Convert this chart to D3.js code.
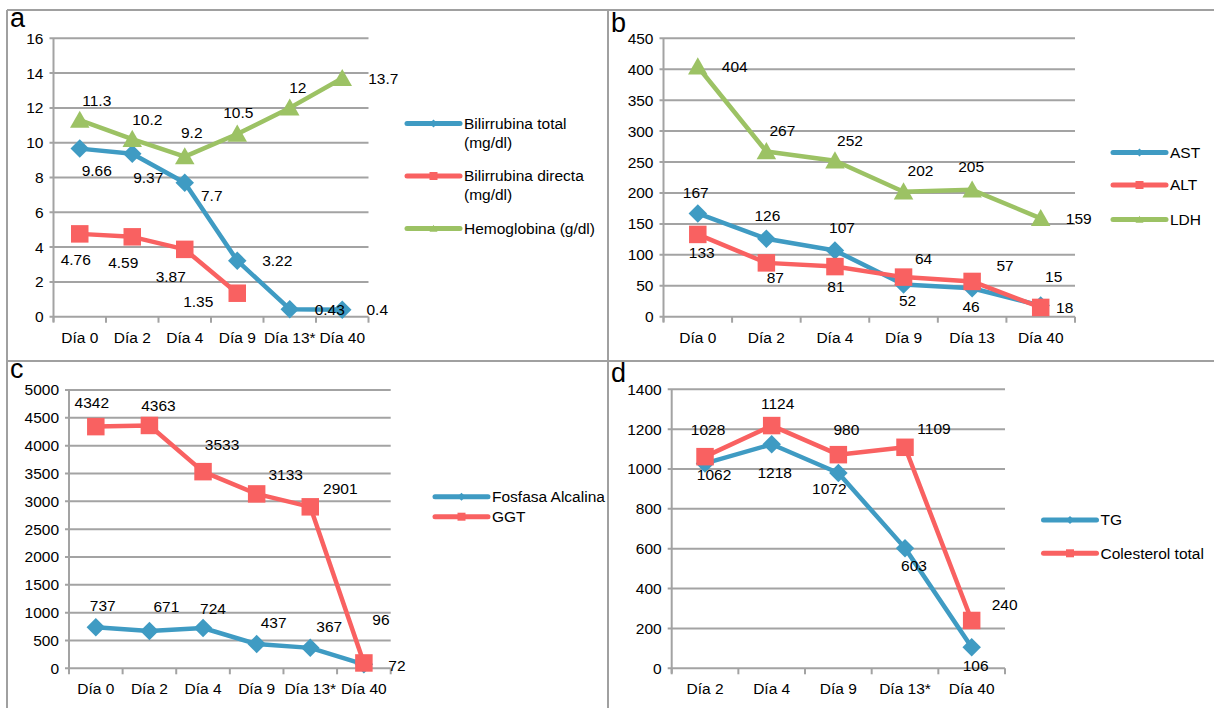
<!DOCTYPE html>
<html><head><meta charset="utf-8">
<script src="https://cdn.jsdelivr.net/npm/d3@7"></script>
<style>
body{margin:0;background:#fff}
svg{display:block}
text{font-family:"Liberation Sans",Arial,Helvetica,sans-serif;fill:#000}
</style>
</head><body>
<svg id="chart" width="1214" height="708"></svg>
<script>
// ---------- DATA ----------
// Panel a
const catsA = ["Día 0","Día 2","Día 4","Día 9","Día 13*","Día 40"];
const bilTotal = [9.66,9.37,7.7,3.22,0.43,0.4];
const bilDirecta = [4.76,4.59,3.87,1.35,null,null];
const hemoglobina = [11.3,10.2,9.2,10.5,12,13.7];
const ticksA = [0,2,4,6,8,10,12,14,16];
// Panel b
const catsB = ["Día 0","Día 2","Día 4","Día 9","Día 13","Día 40"];
const ast = [167,126,107,52,46,18];
const alt = [133,87,81,64,57,15];
const ldh = [404,267,252,202,205,159];
const ticksB = [0,50,100,150,200,250,300,350,400,450];
// Panel c
const catsC = ["Día 0","Día 2","Día 4","Día 9","Día 13*","Día 40"];
const fosfasa = [737,671,724,437,367,72];
const ggt = [4342,4363,3533,3133,2901,96];
const ticksC = [0,500,1000,1500,2000,2500,3000,3500,4000,4500,5000];
// Panel d
const catsD = ["Día 2","Día 4","Día 9","Día 13*","Día 40"];
const tg = [1028,1124,980,603,106];
const colesterol = [1062,1218,1072,1109,240];
const tgLabels = ["1062","1218","1072","603","106"];          // labels as printed in the figure
const colesterolLabels = ["1028","1124","980","1109","240"];
const ticksD = [0,200,400,600,800,1000,1200,1400];

// ---------- STYLE / LAYOUT ----------
const BLUE = "#3f9bc3", RED = "#f96161", GREEN = "#9cc264";
const GRID = "#a3a3a3";
const FONT = 15.5;

// label offsets (layout only), [dx, dy] relative to marker centre
const offA = {
  tot: [[17,22],[16,24],[27,13],[40,0],[40,0],[35,0]],
  dir: [[-4,26],[-9,26],[-14,27],[-39,8]],
  hem: [[17,-20],[15,-20],[7,-24],[1,-21],[8,-20],[41,0]]
};
const offB = {
  ast: [[-2,-21],[1,-23],[7,-23],[4,16],[-1,18],[24,2]],
  alt: [[4,18],[9,15],[1,20],[20,-19],[33,-16],[13,-31]],
  ldh: [[37,0],[16,-21],[15,-20],[17,-21],[-1,-23],[38,0]]
};
const offC = {
  fa: [[7,-22],[17,-24],[10,-19],[17,-21],[19,-21],[33,1]],
  ggt: [[-4,-24],[9,-20],[19,-27],[29,-19],[30,-18],[17,-43]]
};
const offD = {
  tg: [[9,11],[3,28],[-9,16],[9,17],[4,18]],
  col: [[3,-27],[6,-22],[8,-25],[29,-19],[33,-16]]
};

const svg = d3.select("#chart");

// panel borders
const borders = svg.append("g").attr("stroke", "#a0a0a0").attr("stroke-width", 2);
borders.append("line").attr("x1",7).attr("x2",1214).attr("y1",10).attr("y2",10);
borders.append("line").attr("x1",7).attr("x2",1214).attr("y1",361).attr("y2",361);
borders.append("line").attr("x1",7).attr("x2",7).attr("y1",10).attr("y2",708);
borders.append("line").attr("x1",608).attr("x2",608).attr("y1",10).attr("y2",708);

function markerPath(type, s) {
  const h = s/2;
  if (type === "diamond") return `M0,${-h}L${h},0L0,${h}L${-h},0Z`;
  if (type === "square") return `M${-h},${-h}H${h}V${h}H${-h}Z`;
  const th = s*0.88;
  return `M0,${-th*0.55}L${h},${th*0.45}L${-h},${th*0.45}Z`;
}
const markerSize = {diamond: 18.5, square: 17.5, triangle: 19.5};

function panel(cfg) {
  const g = svg.append("g");
  const x = d3.scaleBand().domain(cfg.cats).range([cfg.x0, cfg.x1]).padding(0);
  const y = d3.scaleLinear().domain([0, d3.max(cfg.ticks)]).range([cfg.yb, cfg.yt]);
  const cx = c => x(c) + x.bandwidth()/2;

  // gridlines
  g.append("g").selectAll("line").data(cfg.ticks).join("line")
    .attr("x1", cfg.x0 - 4).attr("x2", cfg.x1)
    .attr("y1", d => y(d)).attr("y2", d => y(d))
    .attr("stroke", GRID).attr("stroke-width", 2);

  // y axis
  const ya = g.append("g").attr("transform", `translate(${cfg.x0},0)`)
    .call(d3.axisLeft(y).tickValues(cfg.ticks).tickSize(0).tickPadding(10).tickFormat(d3.format("d")));
  ya.select(".domain").attr("stroke", GRID).attr("stroke-width", 2).attr("d", `M0,${cfg.yt}V${cfg.yb + 5}`);
  ya.selectAll("text").attr("font-size", FONT).attr("font-family", "Liberation Sans, Arial, sans-serif");

  // x axis
  const xa = g.append("g").attr("transform", `translate(0,${cfg.yb})`)
    .call(d3.axisBottom(x).tickSize(0).tickPadding(15));
  xa.select(".domain").remove();
  xa.selectAll("text").attr("font-size", FONT).attr("font-family", "Liberation Sans, Arial, sans-serif");
  const edges = cfg.cats.map(c => x(c)).concat([cfg.x1]);
  g.append("g").selectAll("line").data(edges).join("line")
    .attr("x1", d => d).attr("x2", d => d)
    .attr("y1", cfg.yb).attr("y2", cfg.yb + 6)
    .attr("stroke", GRID).attr("stroke-width", 2);

  // series
  cfg.series.forEach(s => {
    const pts = s.values.map((v, i) => ({c: cfg.cats[i], v, i})).filter(p => p.v != null);
    const line = d3.line().x(p => cx(p.c)).y(p => y(p.v));
    g.append("path").attr("d", line(pts)).attr("fill", "none")
      .attr("stroke", s.color).attr("stroke-width", 4.5).attr("stroke-linejoin", "round");
    g.append("g").selectAll("path").data(pts).join("path")
      .attr("transform", p => `translate(${cx(p.c)},${y(p.v)})`)
      .attr("d", markerPath(s.marker, markerSize[s.marker]))
      .attr("fill", s.color);
  });
  // labels (on top)
  cfg.series.forEach(s => {
    const pts = s.values.map((v, i) => ({c: cfg.cats[i], v, i})).filter(p => p.v != null);
    g.append("g").selectAll("text").data(pts).join("text")
      .attr("x", p => cx(p.c) + s.offsets[p.i][0])
      .attr("y", p => y(p.v) + s.offsets[p.i][1])
      .attr("dy", "0.35em").attr("text-anchor", "middle").attr("font-size", FONT)
      .text(p => s.labels ? s.labels[p.i] : String(p.v));
  });

  // panel letter
  g.append("text").attr("x", cfg.letter[0]).attr("y", cfg.letter[1])
    .attr("font-size", 27).text(cfg.letterText);

  // legend
  cfg.legend.items.forEach((it, k) => {
    const ly = cfg.legend.ys[k];
    const lx = cfg.legend.x;
    g.append("line").attr("x1", lx).attr("x2", lx + 53).attr("y1", ly).attr("y2", ly)
      .attr("stroke", it.color).attr("stroke-width", 5).attr("stroke-linecap", "round");
    g.append("path").attr("transform", `translate(${lx + 26.5},${ly})`)
      .attr("d", markerPath(it.marker, 8)).attr("fill", it.color);
    const t = g.append("text").attr("x", lx + 57).attr("y", ly).attr("font-size", FONT);
    if (it.lines.length === 1) {
      t.attr("dy", "0.35em").text(it.lines[0]);
    } else {
      it.lines.forEach((ln, j) => {
        t.append("tspan").attr("x", lx + 57).attr("y", ly + 5 + j * 19).text(ln);
      });
    }
  });
}

panel({
  cats: catsA, ticks: ticksA, x0: 53.5, x1: 368.5, yb: 316.7, yt: 38.3,
  letterText: "a", letter: [10, 27],
  series: [
    {values: bilTotal, color: BLUE, marker: "diamond", offsets: offA.tot},
    {values: bilDirecta, color: RED, marker: "square", offsets: offA.dir},
    {values: hemoglobina, color: GREEN, marker: "triangle", offsets: offA.hem}
  ],
  legend: {x: 407, ys: [123.5, 176, 228.5], items: [
    {color: BLUE, marker: "diamond", lines: ["Bilirrubina total", "(mg/dl)"]},
    {color: RED, marker: "square", lines: ["Bilirrubina directa", "(mg/dl)"]},
    {color: GREEN, marker: "triangle", lines: ["Hemoglobina (g/dl)"]}
  ]}
});

panel({
  cats: catsB, ticks: ticksB, x0: 663.5, x1: 1075, yb: 316.7, yt: 38.3,
  letterText: "b", letter: [611, 32],
  series: [
    {values: ast, color: BLUE, marker: "diamond", offsets: offB.ast},
    {values: alt, color: RED, marker: "square", offsets: offB.alt},
    {values: ldh, color: GREEN, marker: "triangle", offsets: offB.ldh}
  ],
  legend: {x: 1113, ys: [152.5, 185, 219.5], items: [
    {color: BLUE, marker: "diamond", lines: ["AST"]},
    {color: RED, marker: "square", lines: ["ALT"]},
    {color: GREEN, marker: "triangle", lines: ["LDH"]}
  ]}
});

panel({
  cats: catsC, ticks: ticksC, x0: 69, x1: 390.7, yb: 668.3, yt: 390,
  letterText: "c", letter: [10, 378],
  series: [
    {values: fosfasa, color: BLUE, marker: "diamond", offsets: offC.fa},
    {values: ggt, color: RED, marker: "square", offsets: offC.ggt}
  ],
  legend: {x: 435, ys: [496.7, 516.7], items: [
    {color: BLUE, marker: "diamond", lines: ["Fosfasa Alcalina"]},
    {color: RED, marker: "square", lines: ["GGT"]}
  ]}
});

panel({
  cats: catsD, ticks: ticksD, x0: 671.7, x1: 1005, yb: 668.3, yt: 389.3,
  letterText: "d", letter: [611, 382],
  series: [
    {values: tg, color: BLUE, marker: "diamond", offsets: offD.tg, labels: tgLabels},
    {values: colesterol, color: RED, marker: "square", offsets: offD.col, labels: colesterolLabels}
  ],
  legend: {x: 1043.5, ys: [520, 553.3], items: [
    {color: BLUE, marker: "diamond", lines: ["TG"]},
    {color: RED, marker: "square", lines: ["Colesterol total"]}
  ]}
});
</script>
</body></html>
